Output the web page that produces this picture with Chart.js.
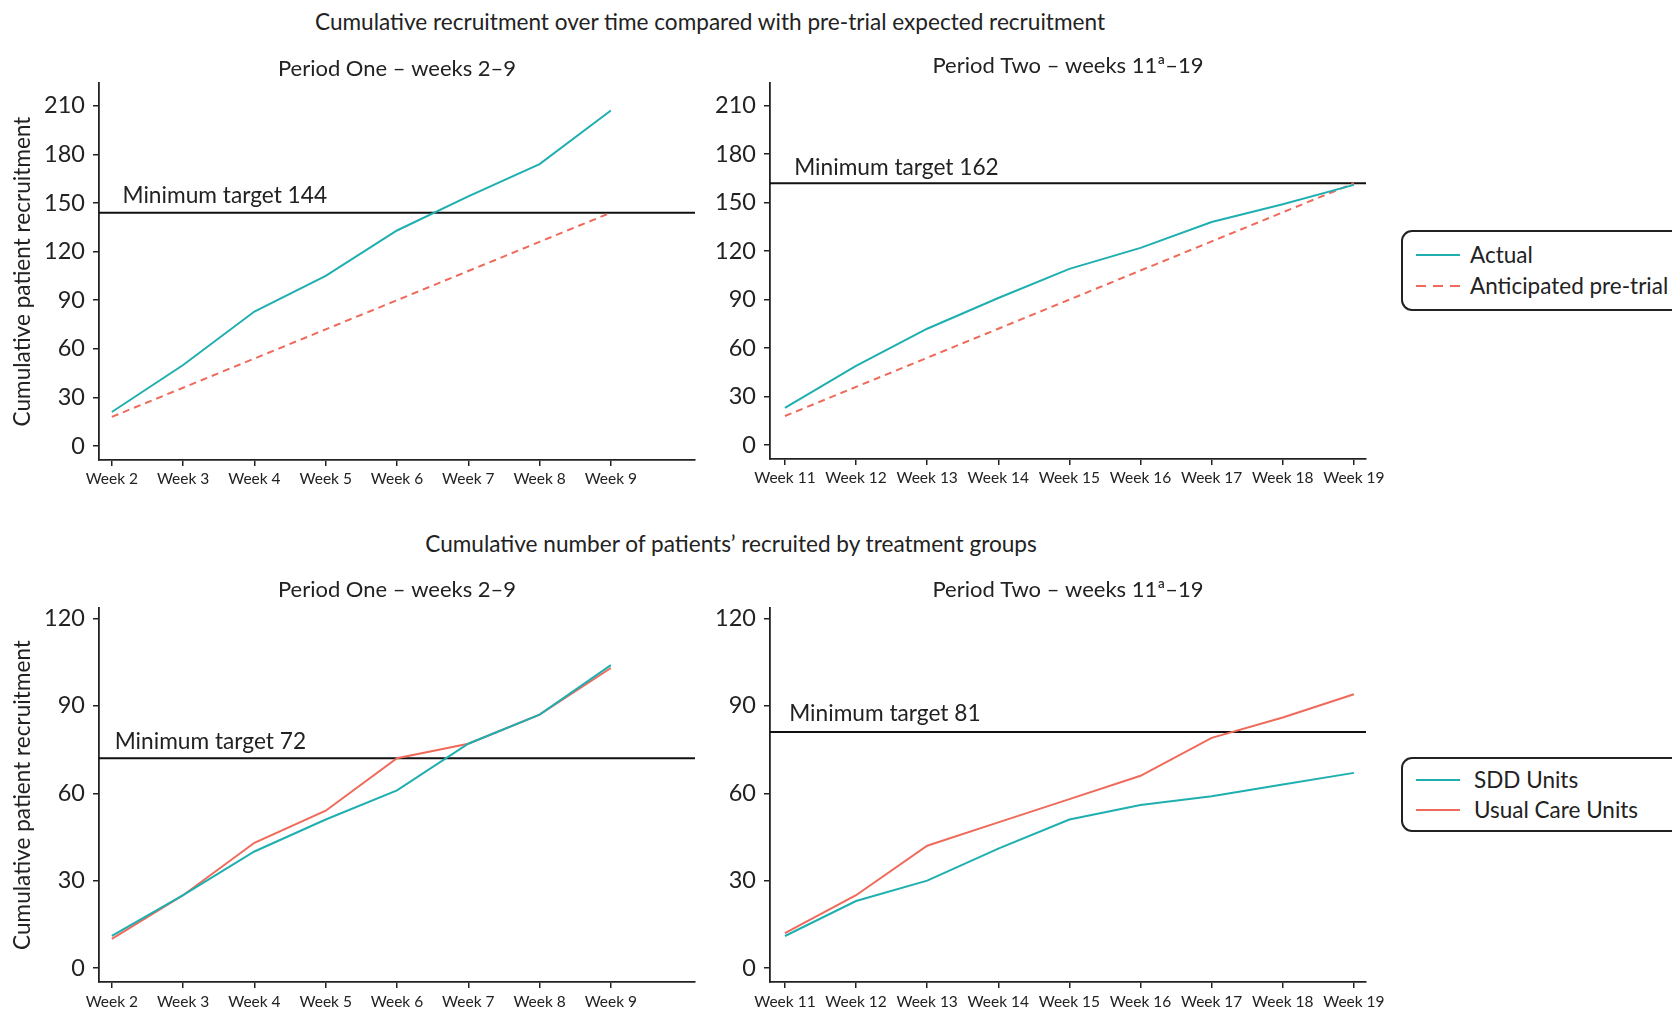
<!DOCTYPE html>
<html>
<head>
    <script src="https://cdn.jsdelivr.net/npm/chart.js@4.4.0/dist/chart.umd.min.js"></script>
    <title>Cumulative recruitment</title>
    <style>
        body { margin: 0; background: #fff; font-family: Lato, sans-serif; color: #222; }
        #page { position: relative; width: 1672px; height: 1012px; overflow: hidden; }
        .main-title { position: absolute; font-size: 22.6px; white-space: nowrap; transform: translate(-50%, -50%); }
        canvas { position: absolute; }
        .legend { position: absolute; left: 1401px; width: 320px; border: 2px solid #222; border-radius: 11px; box-sizing: border-box; }
        .legend .row { position: absolute; left: 0; font-size: 22.5px; white-space: nowrap; height: 26px; line-height: 26px; }
        .legend .swatch { position: absolute; left: 13px; top: 12px; width: 44px; height: 2px; }
        .legend .txt { position: absolute; top: 0; }
    </style>
</head>

<body>
<div id="page">
    <div class="main-title" style="left:710px; top:21px;">Cumulative recruitment over time compared with pre-trial expected recruitment</div>
    <div class="main-title" style="left:731px; top:543px;">Cumulative number of patients’ recruited by treatment groups</div>

    <canvas id="chartTopLeft" width="700" height="470" style="left:0; top:40px;"></canvas>
    <canvas id="chartTopRight" width="700" height="470" style="left:700px; top:40px;"></canvas>
    <canvas id="chartBottomLeft" width="700" height="452" style="left:0; top:560px;"></canvas>
    <canvas id="chartBottomRight" width="700" height="452" style="left:700px; top:560px;"></canvas>

    <div class="legend" style="top:230px; height:81px;">
        <div class="row" style="top:10px;"><div class="swatch" style="background:#1FAFB0;"></div><span class="txt" style="left:67px;">Actual</span></div>
        <div class="row" style="top:41px;"><div class="swatch" style="background:repeating-linear-gradient(to right, #EF6A5A 0 10px, transparent 10px 17px);"></div><span class="txt" style="left:67px;">Anticipated pre-trial</span></div>
    </div>
    <div class="legend" style="top:757px; height:75px;">
        <div class="row" style="top:8px;"><div class="swatch" style="background:#1FAFB0;"></div><span class="txt" style="left:71px;">SDD Units</span></div>
        <div class="row" style="top:38px;"><div class="swatch" style="background:#EF6A5A;"></div><span class="txt" style="left:71px;">Usual Care Units</span></div>
    </div>
</div>

<script>
    // week labels
    var weeksOne = ['Week 2', 'Week 3', 'Week 4', 'Week 5', 'Week 6', 'Week 7', 'Week 8', 'Week 9'];
    var weeksTwo = ['Week 11', 'Week 12', 'Week 13', 'Week 14', 'Week 15', 'Week 16', 'Week 17', 'Week 18', 'Week 19'];

    // top panels: overall recruitment
    var actualOne = [21, 50, 83, 105, 133, 154, 174, 207];
    var anticipatedOne = [18, 36, 54, 72, 90, 108, 126, 144];
    var actualTwo = [23, 49, 72, 91, 109, 122, 138, 149, 161];
    var anticipatedTwo = [18, 36, 54, 72, 90, 108, 126, 144, 162];

    // bottom panels: by treatment group
    var sddOne = [11, 25, 40, 51, 61, 77, 87, 104];
    var usualOne = [10, 25, 43, 54, 72, 77, 87, 103];
    var sddTwo = [11, 23, 30, 41, 51, 56, 59, 63, 67];
    var usualTwo = [12, 25, 42, 50, 58, 66, 79, 86, 94];

    var targets = { topOne: 144, topTwo: 162, bottomOne: 72, bottomTwo: 81 };
    var yTicksTop = [0, 30, 60, 90, 120, 150, 180, 210];
    var yTicksBottom = [0, 30, 60, 90, 120];

    var TEAL = '#1FAFB0';
    var RED = '#EF6A5A';
    var INK = '#222';

    // target line, its label and the panel title, placed with the chart's own scales
    var panelDecor = {
        id: 'panelDecor',
        beforeDatasetsDraw: function(chart, args, opts) {
            var ctx = chart.ctx, area = chart.chartArea;
            var y = chart.scales.y.getPixelForValue(opts.target);
            ctx.save();
            ctx.strokeStyle = '#111';
            ctx.lineWidth = 2;
            ctx.beginPath();
            ctx.moveTo(area.left, y);
            ctx.lineTo(area.right, y);
            ctx.stroke();
            ctx.fillStyle = INK;
            ctx.font = '22.7px Lato';
            ctx.textAlign = 'left';
            ctx.textBaseline = 'middle';
            ctx.fillText('Minimum target ' + opts.target, chart.scales.x.getPixelForValue(opts.labelX), y - opts.labelGap);
            ctx.font = '22px Lato';
            ctx.textAlign = 'center';
            ctx.fillText(opts.title, (area.left + area.right) / 2, area.top - opts.titleGap);
            ctx.restore();
        }
    };

    function toPoints(values) {
        return values.map(function(v, i) { return { x: i, y: v }; });
    }

    function makeChart(id, cfg) {
        var ctx = document.getElementById(id).getContext('2d');
        return new Chart(ctx, {
            type: 'line',
            data: {
                datasets: cfg.series.map(function(s) {
                    return {
                        label: s.label,
                        data: toPoints(s.values),
                        borderColor: s.color,
                        backgroundColor: s.color,
                        borderWidth: 2,
                        borderDash: s.dash || [],
                        pointRadius: 0,
                        tension: 0,
                        fill: false
                    };
                })
            },
            plugins: [panelDecor],
            options: {
                responsive: false,
                animation: false,
                layout: { padding: { left: 0, top: cfg.padTop, right: cfg.padRight, bottom: 0 } },
                plugins: {
                    legend: { display: false },
                    tooltip: { enabled: false },
                    panelDecor: cfg.decor
                },
                scales: {
                    x: {
                        type: 'linear',
                        min: cfg.xMin,
                        max: cfg.xMax,
                        afterBuildTicks: function(scale) {
                            scale.ticks = cfg.labels.map(function(_, i) { return { value: i }; });
                        },
                        afterFit: function(scale) { scale.height = cfg.xHeight; },
                        grid: { drawOnChartArea: false, drawTicks: true, tickLength: 6, color: INK, lineWidth: 1.5 },
                        border: { display: true, color: INK, width: 1.8 },
                        ticks: {
                            autoSkip: false,
                            maxRotation: 0,
                            padding: cfg.xPad,
                            color: INK,
                            font: { family: 'Lato', size: 15.5 },
                            callback: function(v) { return cfg.labels[v]; }
                        }
                    },
                    y: {
                        min: cfg.yMin,
                        max: cfg.yMax,
                        afterBuildTicks: function(scale) {
                            scale.ticks = cfg.yTicks.map(function(v) { return { value: v }; });
                        },
                        afterFit: function(scale) { scale.width = cfg.yWidth; },
                        grid: { drawOnChartArea: false, drawTicks: true, tickLength: 6, color: INK, lineWidth: 1.5 },
                        border: { display: true, color: INK, width: 1.8 },
                        ticks: { padding: 8, color: INK, font: { family: 'Lato', size: 23.5 } },
                        title: {
                            display: cfg.yTitle,
                            text: 'Cumulative patient recruitment',
                            color: INK,
                            font: { family: 'Lato', size: 22.6 },
                            padding: { top: 9, bottom: 0 }
                        }
                    }
                }
            }
        });
    }

    makeChart('chartTopLeft', {
        labels: weeksOne,
        series: [
            { label: 'Actual', values: actualOne, color: TEAL },
            { label: 'Anticipated pre-trial', values: anticipatedOne, color: RED, dash: [7, 5] }
        ],
        xMin: -0.18, xMax: 8.18, yMin: -8.6, yMax: 224, yTicks: yTicksTop,
        padTop: 43, padRight: 5, yWidth: 99, xHeight: 50, xPad: 4, yTitle: true,
        decor: { target: targets.topOne, labelX: 0.15, labelGap: 17, title: 'Period One – weeks 2–9', titleGap: 14 }
    });

    makeChart('chartTopRight', {
        labels: weeksTwo,
        series: [
            { label: 'Actual', values: actualTwo, color: TEAL },
            { label: 'Anticipated pre-trial', values: anticipatedTwo, color: RED, dash: [7, 5] }
        ],
        xMin: -0.21, xMax: 8.17, yMin: -8.6, yMax: 224, yTicks: yTicksTop,
        padTop: 43, padRight: 34, yWidth: 70, xHeight: 51, xPad: 4, yTitle: false,
        decor: { target: targets.topTwo, labelX: 0.13, labelGap: 16, title: 'Period Two – weeks 11ª–19', titleGap: 17 }
    });

    makeChart('chartBottomLeft', {
        labels: weeksOne,
        series: [
            { label: 'SDD Units', values: sddOne, color: TEAL },
            { label: 'Usual Care Units', values: usualOne, color: RED }
        ],
        xMin: -0.18, xMax: 8.18, yMin: -4.8, yMax: 123.6, yTicks: yTicksBottom,
        padTop: 48, padRight: 5, yWidth: 99, xHeight: 30, xPad: 5, yTitle: true,
        decor: { target: targets.bottomOne, labelX: 0.04, labelGap: 17, title: 'Period One – weeks 2–9', titleGap: 18 }
    });

    makeChart('chartBottomRight', {
        labels: weeksTwo,
        series: [
            { label: 'SDD Units', values: sddTwo, color: TEAL },
            { label: 'Usual Care Units', values: usualTwo, color: RED }
        ],
        xMin: -0.21, xMax: 8.17, yMin: -4.8, yMax: 123.6, yTicks: yTicksBottom,
        padTop: 48, padRight: 34, yWidth: 70, xHeight: 30, xPad: 5, yTitle: false,
        decor: { target: targets.bottomTwo, labelX: 0.06, labelGap: 18, title: 'Period Two – weeks 11ª–19', titleGap: 18 }
    });
</script>
</body>
</html>
